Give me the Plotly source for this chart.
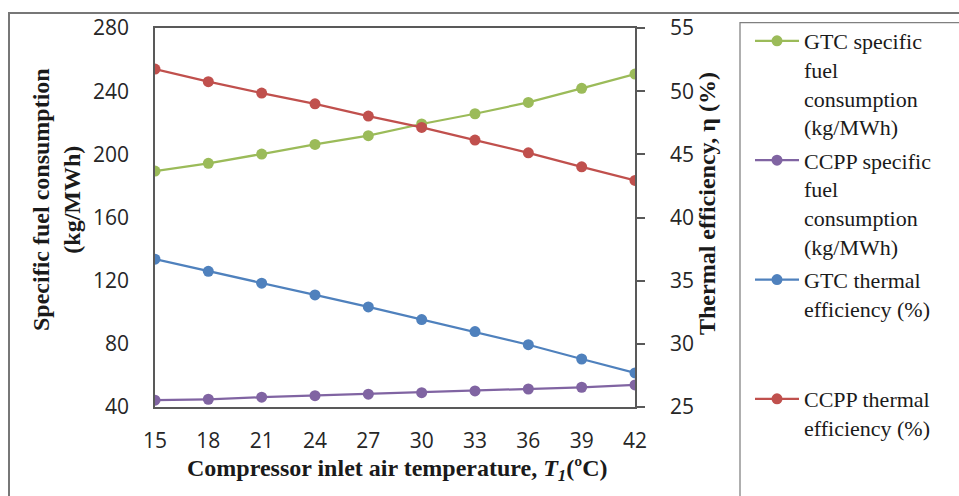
import plotly.graph_objects as go

# ---------------- data ----------------
temps = [15, 18, 21, 24, 27, 30, 33, 36, 39, 42]
gtc_sfc = [189.4, 194.3, 200.2, 206.3, 211.8, 219.2, 225.7, 232.9, 241.8, 250.8]
ccpp_sfc = [44.3, 44.9, 46.2, 47.2, 48.1, 49.1, 50.2, 51.4, 52.5, 54.0]
gtc_eff = [36.7, 35.74, 34.8, 33.87, 32.92, 31.92, 30.97, 29.93, 28.8, 27.7]
ccpp_eff = [51.75, 50.75, 49.85, 49.0, 48.03, 47.13, 46.13, 45.12, 44.01, 42.93]

left_ticks = [40, 80, 120, 160, 200, 240, 280]
right_ticks = [25, 30, 35, 40, 45, 50, 55]

names = [
    "GTC specific<br>fuel<br>consumption<br>(kg/MWh)",
    "CCPP specific<br>fuel<br>consumption<br>(kg/MWh)",
    "GTC thermal<br>efficiency (%)",
    "CCPP thermal<br>efficiency (%)",
]
colors = ["#9BBB59", "#8064A2", "#4F81BD", "#C0504D"]

# ---------------- layout geometry (pixels) ----------------
W, H = 959, 496
PL, PR, PT, PB = 155, 635, 28, 407


def px(x):
    return (x - PL) / (PR - PL)


def py(y):
    return (PB - y) / (PB - PT)


fig = go.Figure()
series = [(gtc_sfc, "y"), (ccpp_sfc, "y"), (gtc_eff, "y2"), (ccpp_eff, "y2")]
legend_ref = ["legend", "legend", "legend", "legend2"]
for i, (vals, ax) in enumerate(series):
    fig.add_trace(go.Scatter(
        x=temps, y=vals, yaxis=ax, name=names[i], mode="lines+markers",
        line=dict(color=colors[i], width=2.25),
        marker=dict(color=colors[i], size=11, symbol="circle"),
        legendgroup=str(i), legend=legend_ref[i],
    ))

axis_col = "#595959"
tick_font = dict(family="Open Sans", size=21, color="#262626")
serif = "Liberation Serif"
title_font = dict(family=serif, size=24, color="#1a1a1a")
legend_font = dict(family=serif, size=22, color="#1a1a1a")

fig.update_layout(
    width=W, height=H,
    margin=dict(l=PL, r=W - PR, t=PT, b=H - PB, pad=0),
    paper_bgcolor="white", plot_bgcolor="white",
    showlegend=True,
    xaxis=dict(
        range=[15, 42], tickmode="array", tickvals=temps,
        ticktext=[str(t) for t in temps],
        showgrid=False, zeroline=False, showline=True, linecolor=axis_col,
        linewidth=1.5, mirror=True, ticks="", tickfont=tick_font,
        ticklabelstandoff=14,
    ),
    yaxis=dict(
        range=[40, 280], tickmode="array", tickvals=left_ticks,
        showgrid=False, zeroline=False, showline=True, linecolor=axis_col,
        linewidth=1.5, mirror=True, ticks="", tickfont=tick_font,
        ticklabelstandoff=20,
    ),
    yaxis2=dict(
        range=[25, 55], tickmode="array", tickvals=right_ticks,
        overlaying="y", side="right",
        showgrid=False, zeroline=False, showline=True, linecolor=axis_col,
        linewidth=1.5, ticks="outside", ticklen=8, tickwidth=1.5,
        tickcolor=axis_col, tickfont=tick_font, ticklabelstandoff=21,
    ),
    legend=dict(
        x=px(750), y=py(20), xanchor="left", yanchor="top",
        font=legend_font,
        bgcolor="rgba(0,0,0,0)", borderwidth=0, valign="top",
        tracegroupgap=2, itemwidth=44, maxheight=480,
    ),
    legend2=dict(
        x=px(750), y=py(378), xanchor="left", yanchor="top",
        font=legend_font,
        bgcolor="rgba(0,0,0,0)", borderwidth=0, valign="top",
        itemwidth=44, maxheight=480,
    ),
    shapes=[
        # outer frame (cropped at right and bottom)
        dict(type="rect", xref="paper", yref="paper",
             x0=px(9), x1=px(990), y0=py(530), y1=py(13),
             line=dict(color="#777777", width=2), fillcolor="rgba(0,0,0,0)",
             layer="below"),
        # legend box
        dict(type="rect", xref="paper", yref="paper",
             x0=px(740), x1=px(990), y0=py(530), y1=py(22.5),
             line=dict(color="#808080", width=1.25), fillcolor="rgba(0,0,0,0)",
             layer="below"),
    ],
    annotations=[
        dict(text="<b>Specific fuel consumption<br>(kg/MWh)</b>", textangle=-90,
             xref="paper", yref="paper", x=px(57), y=py(200),
             xanchor="center", yanchor="middle", showarrow=False,
             font=title_font),
        dict(text="<b>Thermal efficiency, η (%)</b>", textangle=-90,
             xref="paper", yref="paper", x=px(707), y=py(204),
             xanchor="center", yanchor="middle", showarrow=False,
             font=title_font),
        dict(text="<b>Compressor inlet air temperature, <i>T</i><sub><i>1</i></sub>(ºC)</b>",
             xref="paper", yref="paper", x=px(397), y=py(470),
             xanchor="center", yanchor="middle", showarrow=False,
             font=title_font),
    ],
)

fig.write_html("out.html")
